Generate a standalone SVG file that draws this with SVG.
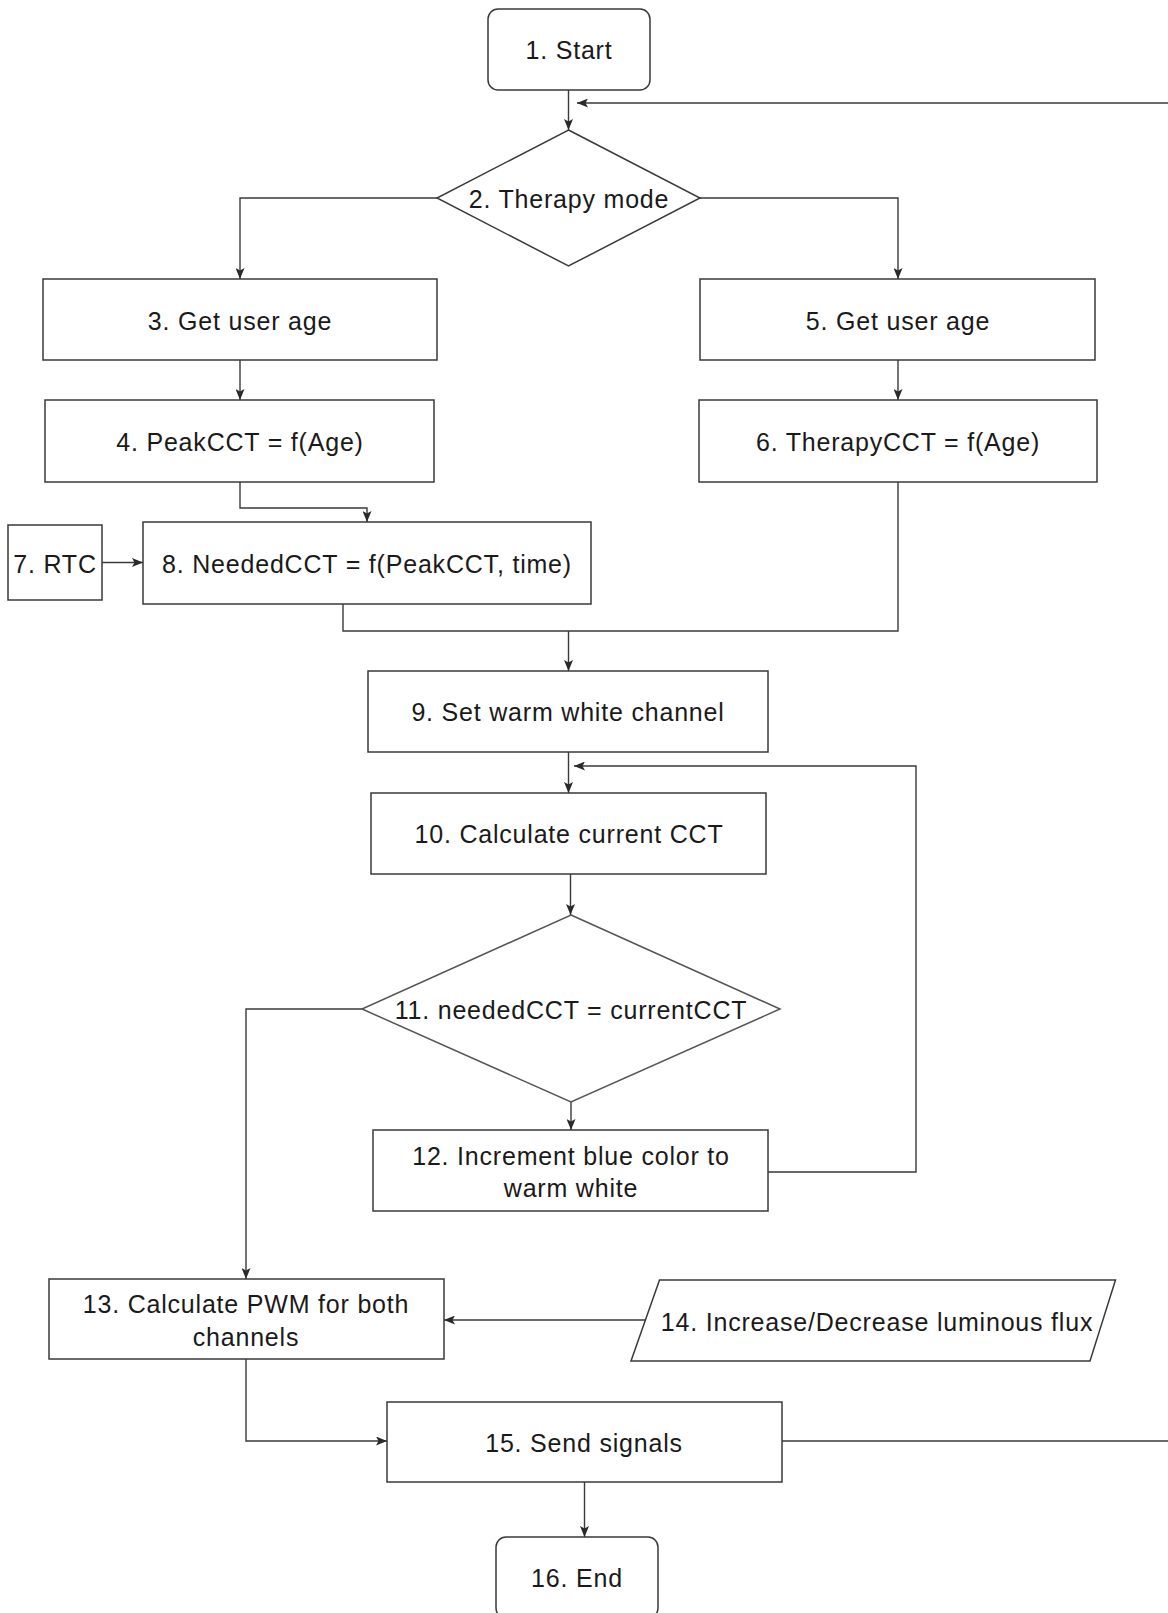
<svg xmlns="http://www.w3.org/2000/svg" width="1168" height="1613" viewBox="0 0 1168 1613">
<style>
.n{fill:#fff;stroke:#3a3a3a;stroke-width:1.5}
.c{fill:none;stroke:#3a3a3a;stroke-width:1.4}
.t{font-family:"Liberation Sans",Arial,sans-serif;font-size:25px;letter-spacing:0.8px;fill:#1a1a1a;text-anchor:middle}
</style>
<defs>
<marker id="ah" viewBox="0 0 11 9" refX="11" refY="4.5" markerWidth="11" markerHeight="9" markerUnits="userSpaceOnUse" orient="auto">
<path d="M0,0 L11,4.5 L0,9 L2.5,4.5 z" fill="#2a2a2a"/>
</marker>
</defs>
<rect width="1168" height="1613" fill="#fff"/>
<g id="connectors">
<path class="c" d="M568.5,90 V130" marker-end="url(#ah)"/>
<path class="c" d="M1168,103 H577" marker-end="url(#ah)"/>
<path class="c" d="M437,198 H240 V279" marker-end="url(#ah)"/>
<path class="c" d="M700,198 H898 V279" marker-end="url(#ah)"/>
<path class="c" d="M240,360 V400" marker-end="url(#ah)"/>
<path class="c" d="M898,360 V400" marker-end="url(#ah)"/>
<path class="c" d="M240,482 V508 H367 V522" marker-end="url(#ah)"/>
<path class="c" d="M102,562.5 H143" marker-end="url(#ah)"/>
<path class="c" d="M343,604 V631 H898 V482"/>
<path class="c" d="M568.5,631 V671" marker-end="url(#ah)"/>
<path class="c" d="M568.5,752 V793" marker-end="url(#ah)"/>
<path class="c" d="M768,1172 H916 V766 H574" marker-end="url(#ah)"/>
<path class="c" d="M570.5,874 V915" marker-end="url(#ah)"/>
<path class="c" d="M571,1102 V1130" marker-end="url(#ah)"/>
<path class="c" d="M362,1009 H246 V1279" marker-end="url(#ah)"/>
<path class="c" d="M645,1320 H444" marker-end="url(#ah)"/>
<path class="c" d="M246,1359 V1441 H387" marker-end="url(#ah)"/>
<path class="c" d="M782,1441 H1168"/>
<path class="c" d="M584.5,1482 V1537" marker-end="url(#ah)"/>
</g>
<g id="n1"><rect class="n" x="488" y="9" width="162" height="81" rx="10"/><text class="t" x="569" y="59">1. Start</text></g>
<g id="n2"><polygon class="n" points="568.5,130 700,198 568.5,266 437,198"/><text class="t" x="569" y="208">2. Therapy mode</text></g>
<g id="n3"><rect class="n" x="43" y="279" width="394" height="81"/><text class="t" x="240" y="330">3. Get user age</text></g>
<g id="n5"><rect class="n" x="700" y="279" width="395" height="81"/><text class="t" x="898" y="330">5. Get user age</text></g>
<g id="n4"><rect class="n" x="45" y="400" width="389" height="82"/><text class="t" x="240" y="451">4. PeakCCT = f(Age)</text></g>
<g id="n6"><rect class="n" x="699" y="400" width="398" height="82"/><text class="t" x="898" y="451">6. TherapyCCT = f(Age)</text></g>
<g id="n7"><rect class="n" x="8" y="525" width="94" height="75"/><text class="t" x="55" y="573">7. RTC</text></g>
<g id="n8"><rect class="n" x="143" y="522" width="448" height="82"/><text class="t" x="367" y="573">8. NeededCCT = f(PeakCCT, time)</text></g>
<g id="n9"><rect class="n" x="368" y="671" width="400" height="81"/><text class="t" x="568" y="721">9. Set warm white channel</text></g>
<g id="n10"><rect class="n" x="371" y="793" width="395" height="81"/><text class="t" x="569" y="843">10. Calculate current CCT</text></g>
<g id="n11"><polygon class="n" points="571,915 780,1009 571,1102 362,1009" style="stroke:#555"/><text class="t" x="571" y="1019">11. neededCCT = currentCCT</text></g>
<g id="n12"><rect class="n" x="373" y="1130" width="395" height="81"/><text class="t" x="571" y="1165">12. Increment blue color to</text><text class="t" x="571" y="1197">warm white</text></g>
<g id="n13"><rect class="n" x="49" y="1279" width="395" height="80"/><text class="t" x="246" y="1313">13. Calculate PWM for both</text><text class="t" x="246" y="1346">channels</text></g>
<g id="n14"><polygon class="n" points="659.5,1280 1115.5,1280 1090,1361 631,1361"/><text class="t" x="877" y="1331">14. Increase/Decrease luminous flux</text></g>
<g id="n15"><rect class="n" x="387" y="1402" width="395" height="80"/><text class="t" x="584" y="1452">15. Send signals</text></g>
<g id="n16"><rect class="n" x="496" y="1537" width="162" height="81" rx="10"/><text class="t" x="577" y="1587">16. End</text></g>
</svg>
